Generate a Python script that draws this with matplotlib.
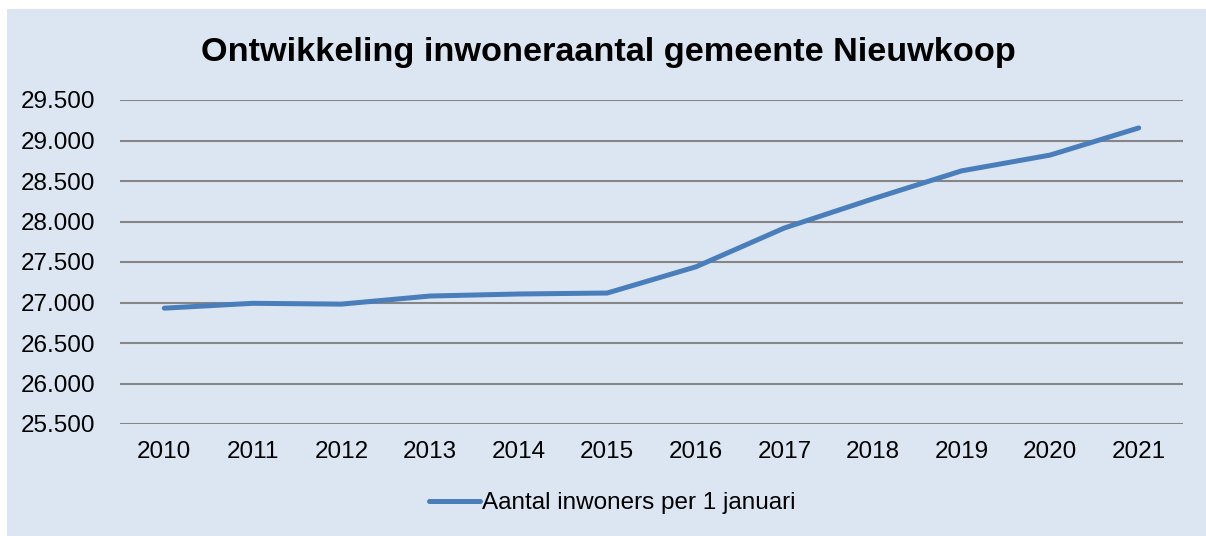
import matplotlib.pyplot as plt
from matplotlib.patches import Rectangle
from matplotlib.ticker import FuncFormatter

plt.rcParams['font.family'] = ['Liberation Sans', 'DejaVu Sans']

# Data
years = [2010, 2011, 2012, 2013, 2014, 2015, 2016, 2017, 2018, 2019, 2020, 2021]
inwoners = [26930, 26990, 26980, 27080, 27105, 27117, 27440, 27920, 28280, 28625, 28820, 29155]
yticks = [25500, 26000, 26500, 27000, 27500, 28000, 28500, 29000, 29500]

bg = '#DCE6F2'

fig = plt.figure(figsize=(12.06, 5.36), dpi=100)
fig.patch.set_facecolor('white')
fig.patches.append(Rectangle((7/1206, 0), 1199/1206, 1 - 9/536, transform=fig.transFigure,
                             facecolor=bg, edgecolor='none', zorder=-5))

ax = fig.add_axes([120/1206, 1 - 424/536, (1183 - 120)/1206, (424 - 100)/536])
ax.patch.set_alpha(0)

ax.plot(years, inwoners, color='#4A7EBB', linewidth=3.6, solid_capstyle='round',
        label='Aantal inwoners per 1 januari', zorder=3)

ax.set_xlim(2009.5, 2021.5)
ax.set_ylim(25500, 29500)
ax.set_xticks(years)
ax.set_yticks(yticks)
ax.yaxis.set_major_formatter(FuncFormatter(lambda v, p: f'{int(v):,}'.replace(',', '.')))
ax.grid(axis='y', color='#868686', linewidth=1.5)
ax.set_axisbelow(True)
for s in ax.spines.values():
    s.set_visible(False)
ax.tick_params(length=0, labelsize=17.5, colors='black')
ax.tick_params(axis='y', pad=18)
ax.tick_params(axis='x', pad=12)

fig.text(608/1206, 1 - 53/536, 'Ontwikkeling inwoneraantal gemeente Nieuwkoop',
         ha='center', va='center', fontsize=24.7, fontweight='bold')

fig.legend(loc='center', bbox_to_anchor=(612/1206, 1 - 503/536), frameon=False,
           fontsize=17.5, handlelength=2.1, handletextpad=0.1)

fig.savefig('out.png', dpi=100, facecolor=fig.get_facecolor())
